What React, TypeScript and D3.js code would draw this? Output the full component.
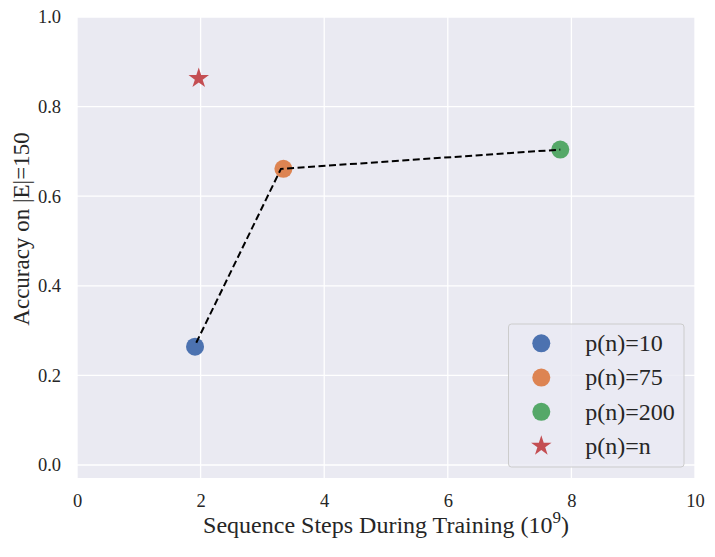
import React, { useRef, useEffect } from 'react';
import * as d3 from 'd3';

// marker positions
const seriesLabels = ['p(n)=10', 'p(n)=75', 'p(n)=200'];
const seriesColors = ['#4c72b0', '#dd8452', '#55a868'];
const stepsX = [1.91, 3.34, 7.82];
const accuracyY = [0.264, 0.661, 0.704];

// dashed connector (drawn slightly off the marker centres in the original)
const lineX = [1.93, 3.3, 7.82];
const lineY = [0.273, 0.661, 0.704];

const starLabel = 'p(n)=n';
const starColor = '#c44e52';
const starX = [1.97];
const starY = [0.863];

const xTicks = [0, 2, 4, 6, 8, 10];
const yTicks = [0.0, 0.2, 0.4, 0.6, 0.8, 1.0];

const FONT = "'Liberation Serif', 'Times New Roman', serif";

function drawChart(svgEl: SVGSVGElement) {
  const width = 715;
  const height = 557;
  const margin = { top: 17, right: 20, bottom: 79, left: 77 };

  const svg = d3.select(svgEl);
  svg.selectAll('*').remove();

  const x = d3.scaleLinear().domain([0, 10]).range([margin.left, width - margin.right]);
  const y = d3.scaleLinear().domain([-0.029, 1.0]).range([height - margin.bottom, margin.top]);

  // background
  svg.append('rect')
    .attr('x', margin.left)
    .attr('y', margin.top)
    .attr('width', width - margin.left - margin.right)
    .attr('height', height - margin.top - margin.bottom)
    .attr('fill', '#eaeaf2');

  // grid
  const grid = svg.append('g');
  grid.selectAll('line.vx')
    .data(xTicks)
    .join('line')
    .attr('x1', d => x(d)).attr('x2', d => x(d))
    .attr('y1', margin.top).attr('y2', height - margin.bottom)
    .attr('stroke', 'white').attr('stroke-width', 1.3);
  grid.selectAll('line.hy')
    .data(yTicks)
    .join('line')
    .attr('y1', d => y(d)).attr('y2', d => y(d))
    .attr('x1', margin.left).attr('x2', width - margin.right)
    .attr('stroke', 'white').attr('stroke-width', 1.3);

  // axes (tick labels only)
  const xAxis = d3.axisBottom(x).tickValues(xTicks).tickSize(0).tickPadding(16).tickFormat(d3.format('d'));
  const yAxis = d3.axisLeft(y).tickValues(yTicks).tickSize(0).tickPadding(16).tickFormat(d3.format('.1f'));

  const gx = svg.append('g')
    .attr('transform', `translate(0, ${height - margin.bottom})`)
    .call(xAxis);
  const gy = svg.append('g')
    .attr('transform', `translate(${margin.left}, 0)`)
    .call(yAxis);
  [gx, gy].forEach(g => {
    g.attr('font-family', null).attr('font-size', null);
    g.select('.domain').remove();
    g.selectAll('text')
      .style('font-family', FONT)
      .style('font-size', '18.5px')
      .attr('fill', '#262626');
  });

  // dashed line
  const pts: [number, number][] = lineX.map((v, i) => [v, lineY[i]]);
  const line = d3.line<[number, number]>().x(d => x(d[0])).y(d => y(d[1]));

  // markers
  svg.append('g')
    .selectAll('circle')
    .data(stepsX)
    .join('circle')
    .attr('cx', d => x(d))
    .attr('cy', (d, i) => y(accuracyY[i]))
    .attr('r', 9)
    .attr('fill', (d, i) => seriesColors[i]);

  svg.append('path')
    .datum(pts)
    .attr('d', line)
    .attr('fill', 'none')
    .attr('stroke', 'black')
    .attr('stroke-width', 2)
    .attr('stroke-dasharray', '7,3.5');

  const star = d3.symbol().type(d3.symbolStar).size(130);
  svg.append('g')
    .selectAll('path.star')
    .data(starX)
    .join('path')
    .attr('class', 'star')
    .attr('transform', (d, i) => `translate(${x(d)}, ${y(starY[i])})`)
    .attr('d', star())
    .attr('fill', starColor);

  // axis labels
  svg.append('text')
    .attr('x', (margin.left + width - margin.right) / 2)
    .attr('y', 533)
    .attr('text-anchor', 'middle')
    .style('font-family', FONT)
    .style('font-size', '24px')
    .attr('fill', '#262626')
    .call(t => {
      t.append('tspan').text('Sequence Steps During Training (10');
      t.append('tspan').style('font-size', '17px').attr('dy', -10).text('9');
      t.append('tspan').attr('dy', 10).text(')');
    });

  svg.append('text')
    .attr('transform', 'translate(29, 229) rotate(-90)')
    .attr('text-anchor', 'middle')
    .style('font-family', FONT)
    .style('font-size', '23px')
    .attr('fill', '#262626')
    .text('Accuracy on |E|=150');

  // legend
  const legend = svg.append('g');
  legend.append('rect')
    .attr('x', 508.5)
    .attr('y', 324)
    .attr('width', 175.5)
    .attr('height', 143)
    .attr('rx', 3)
    .attr('fill', '#eaeaf2')
    .attr('fill-opacity', 0.8)
    .attr('stroke', '#cccccc')
    .attr('stroke-width', 1);

  const rows = [
    ...seriesLabels.map((l, i) => ({ label: l, color: seriesColors[i], star: false })),
    { label: starLabel, color: starColor, star: true },
  ];
  const rowY = d3.scaleLinear().domain([0, 3]).range([343.3, 446]);
  const item = legend.selectAll('g.item')
    .data(rows)
    .join('g')
    .attr('class', 'item')
    .attr('transform', (d, i) => `translate(541.3, ${rowY(i)})`);
  item.filter(d => !d.star)
    .append('circle')
    .attr('r', 9)
    .attr('fill', d => d.color);
  item.filter(d => d.star)
    .append('path')
    .attr('d', star())
    .attr('fill', d => d.color);
  item.append('text')
    .attr('x', 44)
    .attr('dy', '0.33em')
    .style('font-family', FONT)
    .style('font-size', '24px')
    .attr('fill', '#262626')
    .text(d => d.label);
}

export default function App() {
  const ref = useRef<SVGSVGElement>(null);

  useEffect(() => {
    if (ref.current) {
      drawChart(ref.current);
    }
  }, []);

  return (
    <svg
      ref={ref}
      width={715}
      height={557}
      style={{ position: 'absolute', left: 0, top: 0, background: 'white' }}
    />
  );
}
